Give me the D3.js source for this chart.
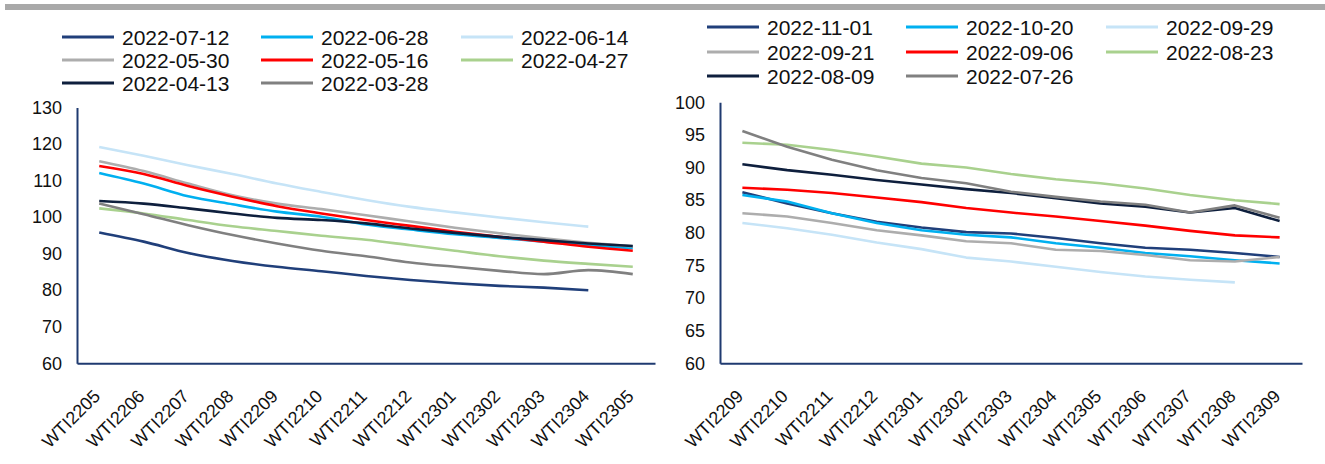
<!DOCTYPE html>
<html>
<head>
<meta charset="utf-8">
<script src="https://cdn.jsdelivr.net/npm/d3@7"></script>
<style>
  body { margin: 0; background: #fff; }
  svg { display: block; font-family: "Liberation Sans", Arial, sans-serif; }
</style>
</head>
<body>
<svg id="chart" width="1325" height="464"></svg>
<script>
// categories
var leftCats = ["WTI2205","WTI2206","WTI2207","WTI2208","WTI2209","WTI2210","WTI2211",
                "WTI2212","WTI2301","WTI2302","WTI2303","WTI2304","WTI2305"];
var rightCats = ["WTI2209","WTI2210","WTI2211","WTI2212","WTI2301","WTI2302","WTI2303",
                 "WTI2304","WTI2305","WTI2306","WTI2307","WTI2308","WTI2309"];

// left panel series (legend order)
var leftDates = ["2022-07-12","2022-06-28","2022-06-14","2022-05-30",
                 "2022-05-16","2022-04-27","2022-04-13","2022-03-28"];
var l0712 = [95.8, 93.3, 90.2, 88.0, 86.4, 85.2, 83.9, 82.8, 81.9, 81.2, 80.7, 80.0, null];
var l0628 = [112.1, 109.2, 105.7, 103.5, 101.5, 100.1, 98.0, 96.6, 95.3, 94.3, 93.3, 92.3, 91.5];
var l0614 = [119.2, 116.8, 114.2, 111.8, 109.2, 106.9, 104.7, 102.8, 101.3, 99.9, 98.6, 97.4, null];
var l0530 = [115.3, 112.6, 109.2, 106.0, 103.7, 102.2, 100.5, 98.8, 97.1, 95.6, 94.2, 93.0, 92.0];
var l0516 = [114.0, 111.8, 108.5, 105.6, 103.0, 101.0, 99.2, 97.6, 96.0, 94.6, 93.3, 91.9, 90.8];
var l0427 = [102.4, 101.0, 99.2, 97.5, 96.2, 94.9, 93.8, 92.3, 90.8, 89.3, 88.1, 87.2, 86.4];
var l0413 = [104.4, 103.7, 102.4, 101.0, 99.8, 99.2, 98.3, 96.9, 95.7, 94.6, 93.7, 92.8, 92.1];
var l0328 = [103.7, 100.8, 97.8, 95.1, 92.8, 90.8, 89.3, 87.6, 86.4, 85.3, 84.4, 85.5, 84.4];
var leftValues = [l0712, l0628, l0614, l0530, l0516, l0427, l0413, l0328];

// right panel series (legend order)
var rightDates = ["2022-11-01","2022-10-20","2022-09-29","2022-09-21",
                  "2022-09-06","2022-08-23","2022-08-09","2022-07-26"];
var r1101 = [86.2, 84.5, 83.0, 81.7, 80.8, 80.1, 79.9, 79.2, 78.4, 77.7, 77.4, 76.9, 76.3];
var r1020 = [85.8, 84.8, 83.0, 81.5, 80.4, 79.7, 79.3, 78.4, 77.7, 76.9, 76.4, 75.8, 75.3];
var r0929 = [81.5, 80.7, 79.7, 78.5, 77.5, 76.2, 75.6, 74.8, 74.0, 73.3, 72.8, 72.4, null];
var r0921 = [83.0, 82.5, 81.5, 80.4, 79.6, 78.7, 78.4, 77.4, 77.2, 76.6, 75.8, 75.6, 76.3];
var r0906 = [86.9, 86.6, 86.1, 85.4, 84.7, 83.8, 83.1, 82.5, 81.8, 81.1, 80.3, 79.6, 79.3];
var r0823 = [93.8, 93.5, 92.7, 91.7, 90.6, 90.0, 89.0, 88.2, 87.6, 86.8, 85.8, 85.0, 84.4];
var r0809 = [90.5, 89.6, 88.9, 88.1, 87.4, 86.7, 86.1, 85.3, 84.5, 84.0, 83.1, 83.8, 81.8];
var r0726 = [95.6, 93.2, 91.2, 89.6, 88.4, 87.6, 86.3, 85.5, 84.8, 84.3, 83.1, 84.2, 82.3];
var rightValues = [r1101, r1020, r0929, r0921, r0906, r0823, r0809, r0726];

var leftTicks = [60, 70, 80, 90, 100, 110, 120, 130];
var rightTicks = [60, 65, 70, 75, 80, 85, 90, 95, 100];

var colors = ["#203f7a", "#00b0f0", "#c6e4f7", "#adadad",
              "#ff0000", "#a9d18e", "#0e1f3d", "#808080"];
var axisColor = "#1f3a70";

var svg = d3.select("#chart");

// grey band along the top
svg.append("rect")
    .attr("x", 5).attr("y", 4)
    .attr("width", 1320).attr("height", 6)
    .attr("fill", "#a9a9a9");

function drawPanel(opt){
    var g = svg.append("g");

    var x = d3.scaleBand()
        .domain(opt.cats)
        .range([opt.x0, opt.x1]);
    var y = d3.scaleLinear()
        .domain([opt.ticks[0], opt.ticks[opt.ticks.length - 1]])
        .range([opt.yBottom, opt.yTop]);

    // y axis: labels and line only
    var yAxis = g.append("g")
        .attr("transform", "translate(" + opt.x0 + ",0)")
        .call(d3.axisLeft(y).tickValues(opt.ticks).tickSize(0).tickPadding(15));
    yAxis.select(".domain").attr("stroke", axisColor).attr("stroke-width", 2);
    yAxis.selectAll("text")
        .attr("font-size", 18)
        .attr("fill", "#111");

    // x axis line, rotated labels
    var xAxis = g.append("g")
        .attr("transform", "translate(0," + opt.yBottom + ")")
        .call(d3.axisBottom(x).tickSize(0));
    xAxis.select(".domain").attr("stroke", axisColor).attr("stroke-width", 2);
    xAxis.selectAll("text")
        .attr("font-size", 18)
        .attr("fill", "#111")
        .attr("text-anchor", "end")
        .attr("dy", null)
        .attr("y", null)
        .attr("transform", "translate(2,34) rotate(-45)");

    var line = d3.line()
        .defined(function(d){ return d != null; })
        .x(function(d, i){ return x(opt.cats[i]) + x.bandwidth() / 2; })
        .y(function(d){ return y(d); })
        .curve(opt.curve);

    opt.values.forEach(function(vals, k){
        g.append("path")
            .datum(vals)
            .attr("fill", "none")
            .attr("stroke", colors[k])
            .attr("stroke-width", 2.6)
            .attr("stroke-linejoin", "round")
            .attr("d", line);
    });

    // legend, 3 columns
    opt.dates.forEach(function(d, k){
        var col = k % 3, row = Math.floor(k / 3);
        var lx = opt.legX[col], ly = opt.legY[row];
        g.append("line")
            .attr("x1", lx).attr("x2", lx + 52)
            .attr("y1", ly).attr("y2", ly)
            .attr("stroke", colors[k])
            .attr("stroke-width", 3);
        g.append("text")
            .attr("x", lx + 60).attr("y", ly)
            .attr("dy", "0.36em")
            .attr("font-size", 21)
            .attr("fill", "#111")
            .text(d);
    });
}

drawPanel({
    cats: leftCats, values: leftValues, dates: leftDates, ticks: leftTicks,
    x0: 77, x1: 655, yTop: 107.5, yBottom: 363.3,
    legX: [62, 261, 461], legY: [37, 60, 83],
    curve: d3.curveMonotoneX
});

drawPanel({
    cats: rightCats, values: rightValues, dates: rightDates, ticks: rightTicks,
    x0: 720, x1: 1302, yTop: 102.3, yBottom: 363.3,
    legX: [707, 906, 1106], legY: [27, 52, 76],
    curve: d3.curveLinear
});
</script>
</body>
</html>
